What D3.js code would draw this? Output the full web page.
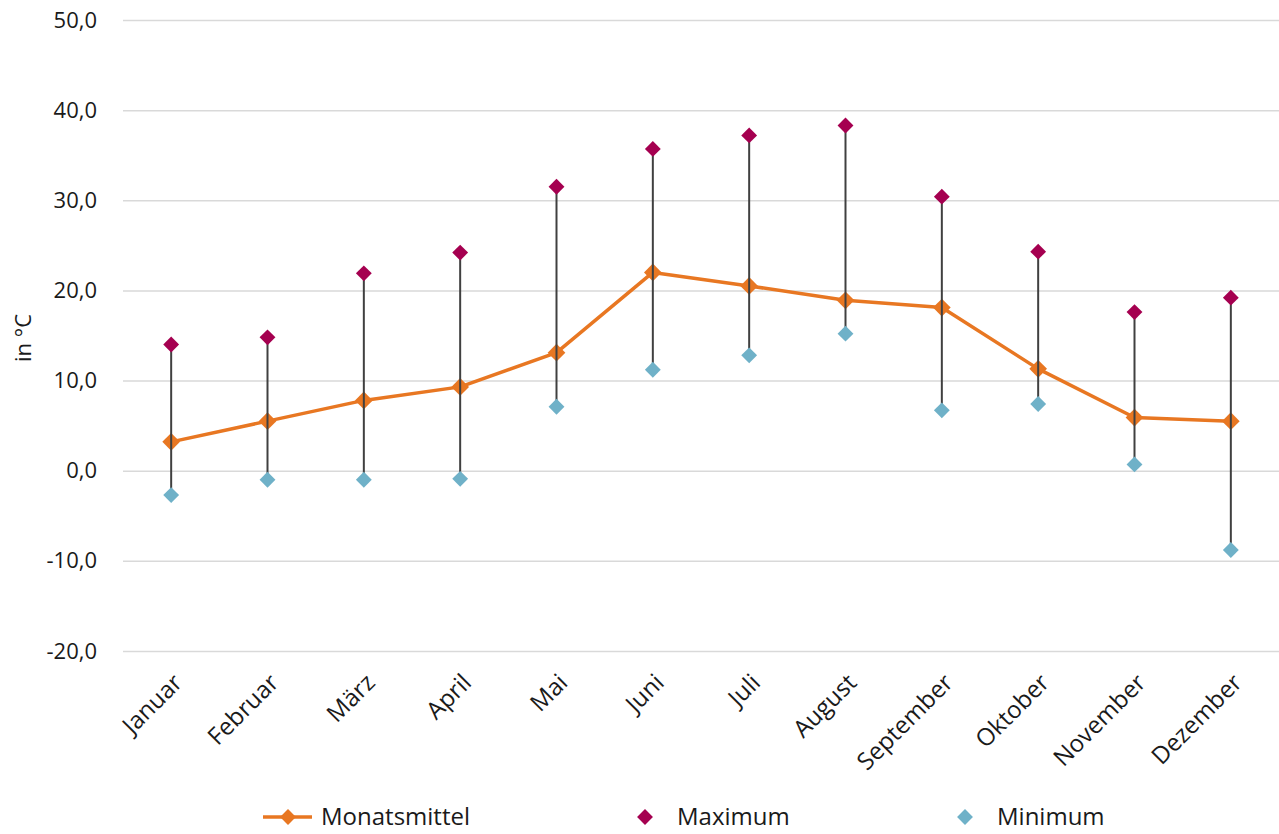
<!DOCTYPE html>
<html>
<head>
<meta charset="utf-8">
<script src="https://cdn.jsdelivr.net/npm/d3@7"></script>
<style>
  body { margin: 0; background: #fff; }
  text { font-family: "Open Sans", "Noto Sans", sans-serif; fill: #1a1a1a; }
</style>
</head>
<body>
<div id="chart"></div>
<script>
const months = ["Januar", "Februar", "März", "April", "Mai", "Juni", "Juli", "August", "September", "Oktober", "November", "Dezember"];
const mean = [3.2, 5.5, 7.8, 9.3, 13.1, 22.0, 20.5, 18.9, 18.1, 11.3, 5.9, 5.5];
const maxima = [14.0, 14.8, 21.9, 24.2, 31.5, 35.7, 37.2, 38.3, 30.4, 24.3, 17.6, 19.2];
const minima = [-2.7, -1.0, -1.0, -0.9, 7.1, 11.2, 12.8, 15.2, 6.7, 7.4, 0.7, -8.8];
const yTicks = [-20, -10, 0, 10, 20, 30, 40, 50];

const width = 1279, height = 834;
const margin = {top: 20, right: 0, bottom: 183, left: 123};
const fs = "24px";

const svg = d3.select("#chart").append("svg")
    .attr("width", width)
    .attr("height", height);

const x = d3.scalePoint()
    .domain(months)
    .range([margin.left, width - margin.right])
    .padding(0.5);

const y = d3.scaleLinear()
    .domain([-20, 50])
    .range([height - margin.bottom, margin.top]);

const fmt = v => d3.format(".1f")(v).replace(".", ",").replace("−", "-");

// gridlines + y labels
const yAxis = svg.append("g")
    .attr("transform", "translate(" + margin.left + ",0)")
    .call(d3.axisLeft(y).tickValues(yTicks).tickFormat(fmt)
        .tickSize(-(width - margin.left - margin.right)).tickPadding(26));
yAxis.select(".domain").remove();
yAxis.selectAll(".tick line").attr("stroke", "#d9d9d9").attr("stroke-width", 1.5);
yAxis.selectAll(".tick text").style("font-size", "22px").attr("fill", "#1a1a1a");

// x labels
const xAxis = svg.append("g")
    .attr("transform", "translate(0," + (height - margin.bottom) + ")")
    .call(d3.axisBottom(x).tickSize(0));
xAxis.select(".domain").remove();
xAxis.selectAll(".tick text")
    .style("font-size", fs)
    .attr("fill", "#1a1a1a")
    .attr("text-anchor", "end")
    .attr("dy", null)
    .attr("transform", "translate(10,31) rotate(-45)");

// y title
svg.append("text")
    .attr("transform", "translate(31,338) rotate(-90)")
    .attr("text-anchor", "middle")
    .style("font-size", "22px")
    .text("in °C");

const diamond = d3.symbol().type(d3.symbolDiamond2).size(160);
const bigDiamond = d3.symbol().type(d3.symbolDiamond2).size(200);

// mean line
const line = d3.line()
    .x((d, i) => x(months[i]))
    .y(d => y(d));
svg.append("path")
    .datum(mean)
    .attr("fill", "none")
    .attr("stroke", "#e87722")
    .attr("stroke-width", 3.5)
    .attr("stroke-linejoin", "round")
    .attr("d", line);

svg.append("g").selectAll("path")
    .data(mean)
    .join("path")
    .attr("d", bigDiamond)
    .attr("transform", (d, i) => "translate(" + x(months[i]) + "," + y(d) + ")")
    .attr("fill", "#e87722");

// high-low lines
svg.append("g").selectAll("line")
    .data(months)
    .join("line")
    .attr("x1", d => x(d))
    .attr("x2", d => x(d))
    .attr("y1", (d, i) => y(maxima[i]))
    .attr("y2", (d, i) => y(minima[i]))
    .attr("stroke", "#404040")
    .attr("stroke-width", 2);

svg.append("g").selectAll("path")
    .data(maxima)
    .join("path")
    .attr("d", diamond)
    .attr("transform", (d, i) => "translate(" + x(months[i]) + "," + y(d) + ")")
    .attr("fill", "#a50050");

svg.append("g").selectAll("path")
    .data(minima)
    .join("path")
    .attr("d", diamond)
    .attr("transform", (d, i) => "translate(" + x(months[i]) + "," + y(d) + ")")
    .attr("fill", "#6fb1c8");

// legend
const ly = 817;
const legend = svg.append("g");
legend.append("line")
    .attr("x1", 263).attr("x2", 312).attr("y1", ly).attr("y2", ly)
    .attr("stroke", "#e87722").attr("stroke-width", 3.5);
legend.append("path").attr("d", diamond)
    .attr("transform", "translate(288," + ly + ")").attr("fill", "#e87722");
legend.append("text").attr("x", 321).attr("y", ly + 8)
    .style("font-size", fs).text("Monatsmittel");

legend.append("path").attr("d", diamond)
    .attr("transform", "translate(645," + ly + ")").attr("fill", "#a50050");
legend.append("text").attr("x", 677).attr("y", ly + 8)
    .style("font-size", fs).text("Maximum");

legend.append("path").attr("d", diamond)
    .attr("transform", "translate(965," + ly + ")").attr("fill", "#6fb1c8");
legend.append("text").attr("x", 997).attr("y", ly + 8)
    .style("font-size", fs).text("Minimum");
</script>
</body>
</html>
